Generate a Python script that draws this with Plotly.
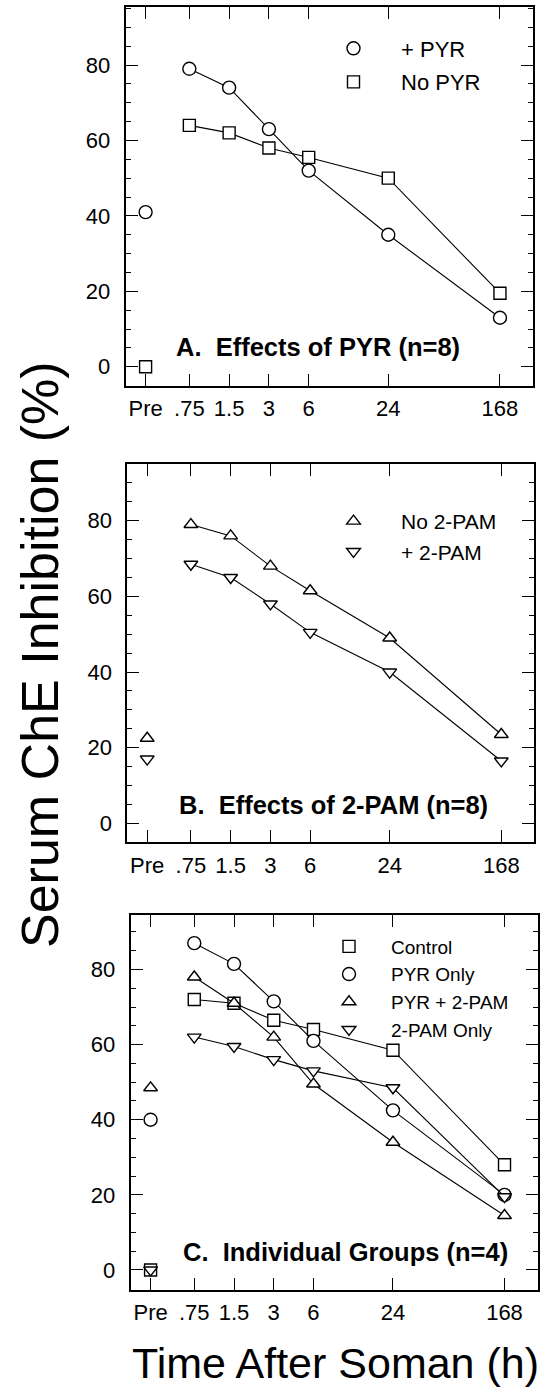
import plotly.graph_objects as go

# ---- data ----
TIME_LABELS = ["Pre", ".75", "1.5", "3", "6", "24", "168"]
TIME_POS = [0.35, 0.75, 1.5, 3, 6, 24, 168]   # "Pre" placed left of .75 on the log time axis

# Panel A: Effects of PYR (n=8)
A_PYR = [41, 79, 74, 63, 52, 35, 13]
A_NOPYR = [0, 64, 62, 58, 55.5, 50, 19.5]

# Panel B: Effects of 2-PAM (n=8)
B_NO2PAM = [22.5, 79, 76, 68, 61.5, 49, 23.5]
B_2PAM = [17, 68.5, 65, 58, 50.5, 40, 16.5]

# Panel C: Individual Groups (n=4)
C_CONTROL = [0, 72, 71, 66.5, 64, 58.5, 28]
C_PYR_ONLY = [40, 87, 81.5, 71.5, 61, 42.5, 20]
C_PYR_2PAM = [48.5, 78, 71, 62, 49.5, 34, 14.5]
C_2PAM_ONLY = [0, 62, 59.5, 56, 53, 48.5, 19.5]

FONT = "Liberation Sans, Arial, sans-serif"
W, H = 545, 1392

fig = go.Figure()

panels = [
    ("x", "y", "legend", [("+ PYR", A_PYR, "circle", 13), ("No PYR", A_NOPYR, "square", 12)]),
    ("x2", "y2", "legend2", [("No 2-PAM", B_NO2PAM, "triangle-up", 12), ("+ 2-PAM", B_2PAM, "triangle-down", 12)]),
    ("x3", "y3", "legend3", [("Control", C_CONTROL, "square", 12), ("PYR Only", C_PYR_ONLY, "circle", 13),
                            ("PYR + 2-PAM", C_PYR_2PAM, "triangle-up", 12), ("2-PAM Only", C_2PAM_ONLY, "triangle-down", 12)]),
]

for xa, ya, lg, series in panels:
    for name, vals, sym, sz in series:
        mk = dict(symbol=sym, size=sz, color="white", line=dict(color="black", width=1.4))
        # pre-exposure point (not connected)
        fig.add_trace(go.Scatter(x=TIME_POS[:1], y=vals[:1], mode="markers", marker=mk, name=name,
                                 legendgroup=xa + name, legend=lg, showlegend=True, xaxis=xa, yaxis=ya))
        # post-exposure time course
        fig.add_trace(go.Scatter(x=TIME_POS[1:], y=vals[1:], mode="lines+markers", marker=mk,
                                 line=dict(color="black", width=1.1), name=name,
                                 legendgroup=xa + name, legend=lg, showlegend=False, xaxis=xa, yaxis=ya))

def px_x(p):
    return p / W

def px_y(p):
    return 1 - p / H

xdoms = [(125.7, 533.0), (127.3, 534.3), (130.7, 537.5)]
ydoms = [(386.0, 7.3), (842.3, 464.0), (1289.5, 915.0)]
yranges = [(-5.1, 95.3), (-5.0, 95.0), (-5.2, 94.5)]

xrange_log = [-0.6065, 2.4752]

for i in range(3):
    sx = "" if i == 0 else str(i + 1)
    fig.update_layout(**{
        "xaxis" + sx: dict(
            type="log", range=xrange_log, domain=[px_x(xdoms[i][0]), px_x(xdoms[i][1])],
            anchor="y" + sx, tickmode="array", tickvals=TIME_POS, ticktext=TIME_LABELS,
            ticks="inside", ticklen=12, tickwidth=1.4, tickcolor="black",
            showline=True, linecolor="black", linewidth=2, mirror="allticks",
            showgrid=False, zeroline=False, ticklabelstandoff=2,
            tickfont=dict(family=FONT, size=22, color="black"),
        ),
        "yaxis" + sx: dict(
            range=list(yranges[i]), domain=[px_y(ydoms[i][0]), px_y(ydoms[i][1])],
            anchor="x" + sx, tickmode="array", tickvals=[0, 20, 40, 60, 80],
            ticks="inside", ticklen=12, tickwidth=1.4, tickcolor="black",
            minor=dict(dtick=5, tick0=0, ticks="inside", ticklen=5, tickwidth=1, tickcolor="black"),
            showline=True, linecolor="black", linewidth=2, mirror="allticks",
            showgrid=False, zeroline=False, ticklabelstandoff=9,
            tickfont=dict(family=FONT, size=22, color="black"),
        ),
    })

# legends
fig.update_layout(
    legend=dict(x=px_x(306), y=px_y(27.5), xanchor="left", yanchor="top", itemwidth=85,
                tracegroupgap=2, bgcolor="rgba(0,0,0,0)", font=dict(family=FONT, size=22, color="black")),
    legend2=dict(x=px_x(306), y=px_y(501), xanchor="left", yanchor="top", itemwidth=85,
                 tracegroupgap=0, bgcolor="rgba(0,0,0,0)", font=dict(family=FONT, size=21, color="black")),
    legend3=dict(x=px_x(307), y=px_y(927.5), xanchor="left", yanchor="top", itemwidth=74,
                 tracegroupgap=0, bgcolor="rgba(0,0,0,0)", font=dict(family=FONT, size=19, color="black")),
)

annots = [
    dict(text="<b>A.  Effects of PYR (n=8)</b>", x=px_x(173.8), y=px_y(346.7)),
    dict(text="<b>B.  Effects of 2-PAM (n=8)</b>", x=px_x(177.3), y=px_y(805)),
    dict(text="<b>C.  Individual Groups (n=4)</b>", x=px_x(180.7), y=px_y(1252)),
]
for a in annots:
    fig.add_annotation(xref="paper", yref="paper", xanchor="left", yanchor="middle", showarrow=False,
                       font=dict(family=FONT, size=25.5, color="black"), **a)

fig.add_annotation(text="Time After Soman (h)", xref="paper", yref="paper", x=px_x(335), y=px_y(1363),
                   xanchor="center", yanchor="middle", showarrow=False,
                   font=dict(family=FONT, size=43, color="black"))
fig.add_annotation(text="Serum ChE Inhibition (%)", xref="paper", yref="paper", x=px_x(40), y=px_y(655),
                   xanchor="center", yanchor="middle", textangle=-90, showarrow=False,
                   font=dict(family=FONT, size=52, color="black"))

fig.update_layout(width=W, height=H, margin=dict(l=0, r=0, t=0, b=0),
                  paper_bgcolor="white", plot_bgcolor="white", hovermode=False)

fig.write_html("out.html")
